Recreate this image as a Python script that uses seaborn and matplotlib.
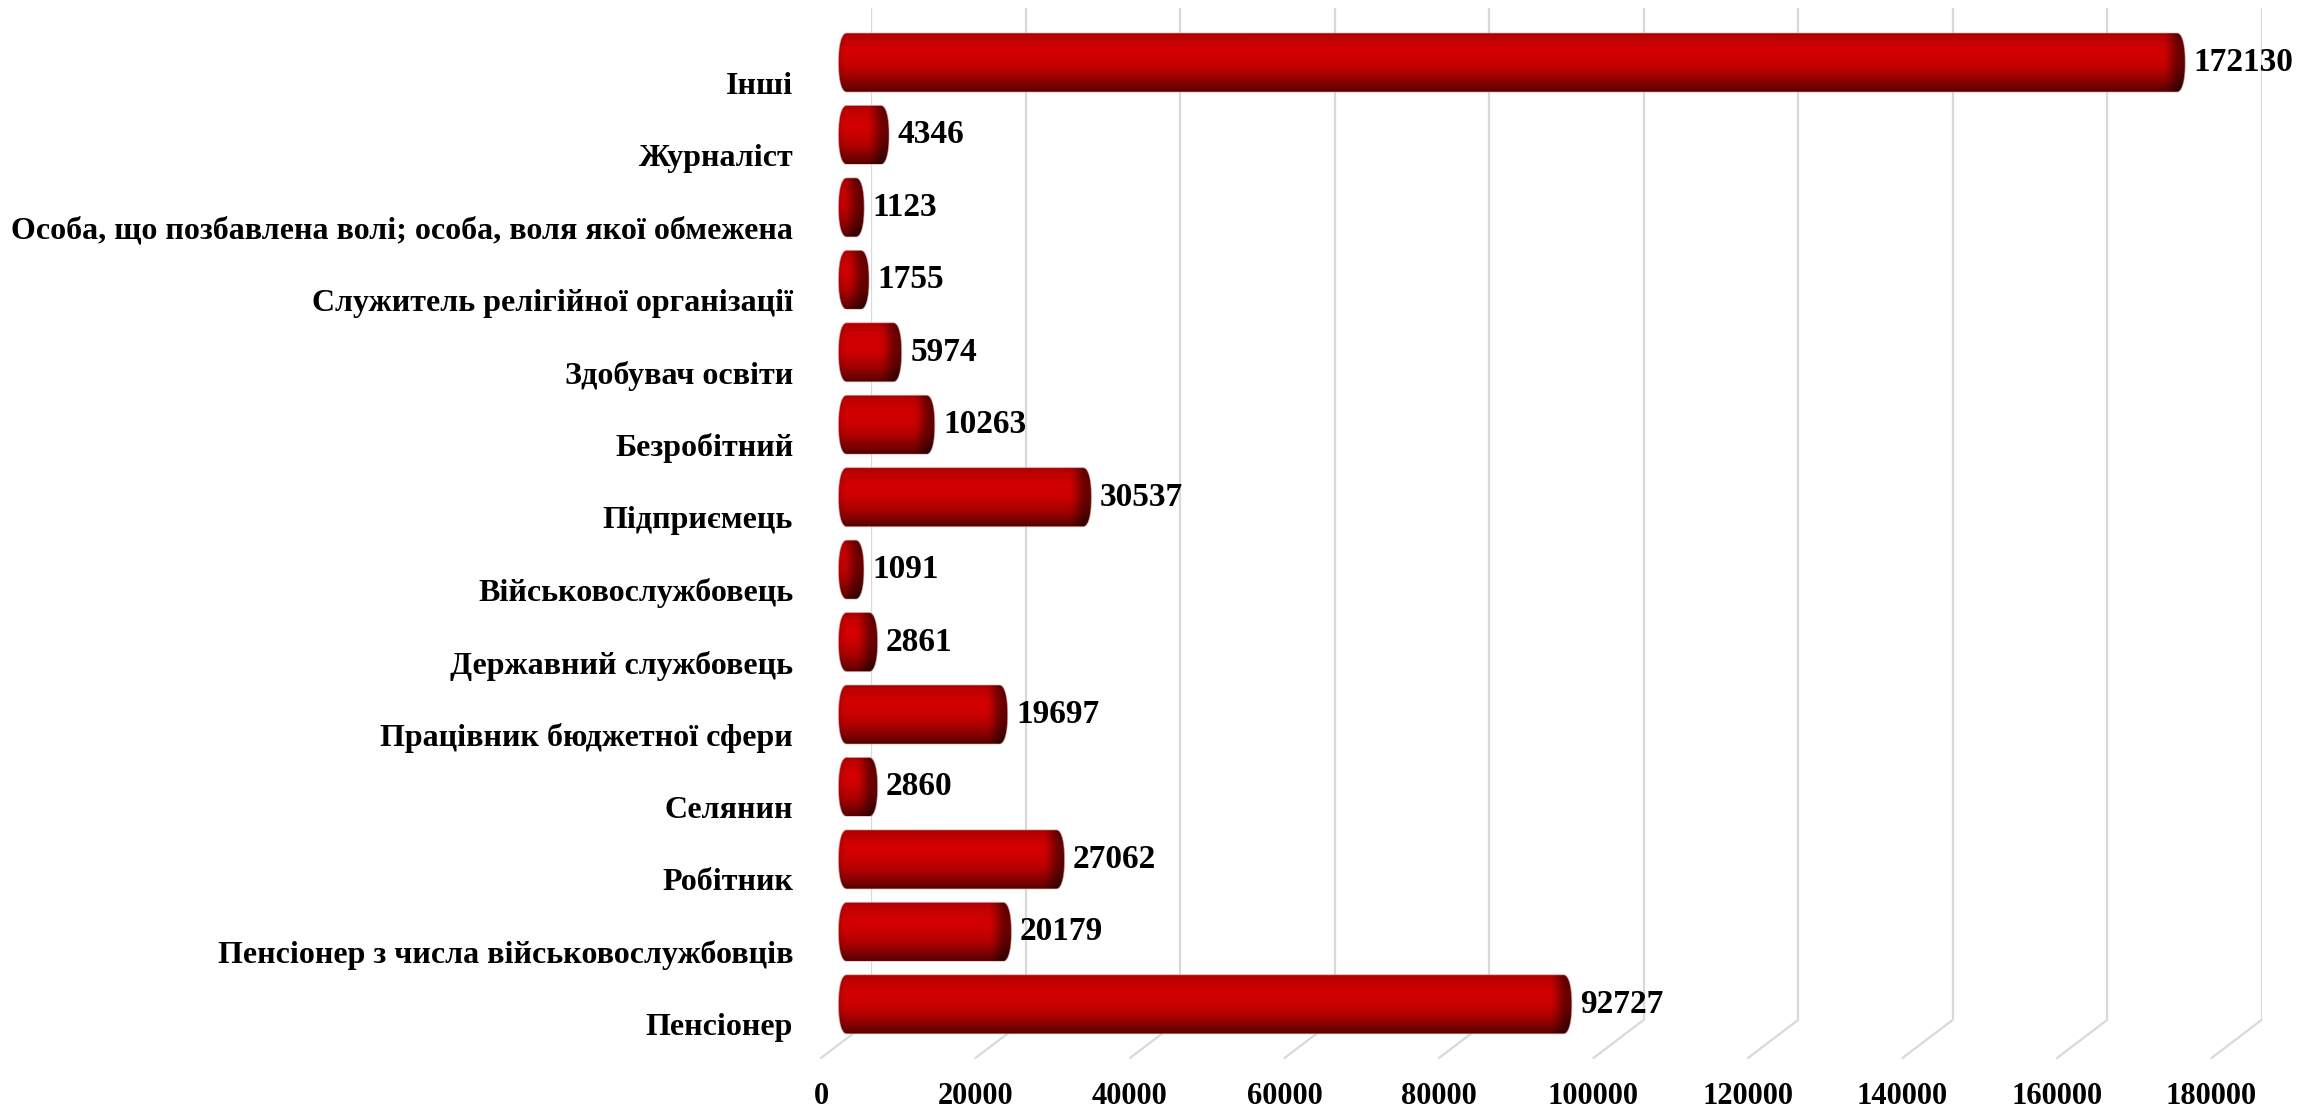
import numpy as np
import matplotlib
matplotlib.use("Agg")
import matplotlib.pyplot as plt
import seaborn as sns
from matplotlib.path import Path
from matplotlib.transforms import IdentityTransform
from matplotlib.patches import ConnectionPatch, PathPatch

# ---------------- data ----------------
categories = [
    "Інші",
    "Журналіст",
    "Особа, що позбавлена волі; особа, воля якої обмежена",
    "Служитель релігійної організації",
    "Здобувач освіти",
    "Безробітний",
    "Підприємець",
    "Військовослужбовець",
    "Державний службовець",
    "Працівник бюджетної сфери",
    "Селянин",
    "Робітник",
    "Пенсіонер з числа військовослужбовців",
    "Пенсіонер",
]
values = [172130, 4346, 1123, 1755, 5974, 10263, 30537, 1091, 2861, 19697, 2860, 27062, 20179, 92727]
x_ticks = [0, 20000, 40000, 60000, 80000, 100000, 120000, 140000, 160000, 180000]
x_max = 180000

# ---------------- style ----------------
sns.set_theme(style="white")
plt.rcParams["font.family"] = ["Liberation Serif", "DejaVu Serif"]
plt.rcParams["font.weight"] = "bold"

W, H = 2320, 1109
fig = plt.figure(figsize=(W / 100, H / 100), dpi=100)
fig.patch.set_facecolor("white")


def rect(left, top, right, bottom):
    return [left / W, 1 - bottom / H, (right - left) / W, (bottom - top) / H]


PLOT_W = 1390.5                # pixel width of the 0..x_max span
x_pad = 3000                   # room on the bar plane for the left end caps
pad_px = x_pad * PLOT_W / x_max

# three planes of the pseudo-3D chart: back wall, bar plane, front (labels)
ax_back = fig.add_axes(rect(871, 8.3, 871 + PLOT_W, 1020))
ax_mid = fig.add_axes(rect(847 - pad_px, 26.3, 847 + PLOT_W, 1038))
ax = fig.add_axes(rect(821, 46.3, 821 + PLOT_W, 1058))

YLIM = (13.465, -0.5)
grid_col = "#d9d9d9"

for a in (ax_back, ax):
    a.set_facecolor("none")
    a.set_xlim(0, x_max)
    a.set_ylim(*YLIM)
ax_mid.set_facecolor("none")

# back wall gridlines
for t in x_ticks:
    ax_back.axvline(t, color=grid_col, lw=1.6, zorder=0)
ax_back.axis("off")

# floor lines from back wall to front edge
for t in x_ticks:
    cp = ConnectionPatch(
        xyA=(t, 0), coordsA=ax_back.get_xaxis_transform(),
        xyB=(t, 0), coordsB=ax.get_xaxis_transform(),
        color=grid_col, lw=1.6, zorder=0,
    )
    cp.set_clip_on(False)
    ax_back.add_artist(cp)

# bars
sns.barplot(x=values, y=categories, orient="h", color="#cc0000",
            saturation=1, width=0.815, ax=ax_mid)
ax_mid.set_xlim(-x_pad, x_max)
ax_mid.set_ylim(*YLIM)
ax_mid.set_autoscale_on(False)
ax_mid.axis("off")

# cylinder shading profile (top -> bottom)
stops = [0.0, 0.08, 0.3, 0.5, 0.7, 0.85, 1.0]
cols = np.array([
    [0.64, 0.00, 0.00],
    [0.74, 0.00, 0.00],
    [0.83, 0.00, 0.00],
    [0.80, 0.00, 0.00],
    [0.68, 0.00, 0.00],
    [0.52, 0.00, 0.00],
    [0.34, 0.00, 0.00],
])


def smooth(z):
    z = np.clip(z, 0, 1)
    return z * z * (3 - 2 * z)


def sexp(a, n=2.3):
    return np.sign(a) * np.abs(a) ** (2.0 / n)


rx = 8.5
inv = ax_mid.transData.inverted()
for p, v in zip(list(ax_mid.patches), values):
    x0, w, y, h = p.get_x(), p.get_width(), p.get_y(), p.get_height()
    (X0, Ya) = ax_mid.transData.transform((x0, y))
    (X1, Yb) = ax_mid.transData.transform((x0 + w, y + h))
    Ylo, Yhi = min(Ya, Yb), max(Ya, Yb)
    yc, ry = (Ylo + Yhi) / 2, (Yhi - Ylo) / 2
    tr = np.linspace(np.pi / 2, -np.pi / 2, 60)
    tl = np.linspace(3 * np.pi / 2, np.pi / 2, 60)
    poly = np.vstack([
        np.column_stack([X1 + rx * sexp(np.cos(tr)), yc + ry * sexp(np.sin(tr))]),
        np.column_stack([X0 + rx * sexp(np.cos(tl)), yc + ry * sexp(np.sin(tl))]),
    ])
    path = Path(poly, closed=True)

    L, R = X0 - rx - 1, X1 + rx + 1
    nx = max(int(R - L) + 2, 4)
    ny = int(Yhi - Ylo) + 2
    fy = np.linspace(0, 1, ny)
    prof = np.column_stack([np.interp(fy, stops, cols[:, c]) for c in range(3)])
    xs = np.linspace(L, R, nx)
    fac = 1 - 0.5 * smooth((xs - (X1 - 14)) / 19.0)
    fac = fac * (1 - 0.12 * smooth((X0 - xs) / rx))
    img = prof[:, None, :] * fac[None, :, None]

    (dl, db) = inv.transform((L, Ylo))
    (dr, dt) = inv.transform((R, Yhi))
    im = ax_mid.imshow(img, extent=[dl, dr, db, dt], aspect="auto",
                       interpolation="bilinear", origin="upper", zorder=2)
    im.set_clip_path(path, IdentityTransform())
    outline = PathPatch(path, transform=IdentityTransform(), fill=False,
                        edgecolor="#d7a8a8", lw=0.7, alpha=0.6, zorder=3)
    ax_mid.add_patch(outline)
    outline.set_clip_on(False)
    p.set_facecolor("none")
    p.set_edgecolor("none")

    ax_mid.annotate(f"{v}", xy=(x0 + w, y + h / 2), xytext=(17, 0),
                    textcoords="offset pixels", ha="left", va="center",
                    fontsize=24, fontweight="bold", color="black",
                    annotation_clip=False, zorder=4)

ax_mid.set_xlim(-x_pad, x_max)
ax_mid.set_ylim(*YLIM)

# front plane: tick labels
ax.set_xticks(x_ticks)
ax.set_xticklabels([str(t) for t in x_ticks])
ax.set_yticks(range(len(categories)))
ax.set_yticklabels(categories)
ax.tick_params(axis="x", length=0, pad=17, labelsize=22, colors="black")
ax.tick_params(axis="y", length=0, pad=20, labelsize=23, colors="black")
for lab in ax.get_xticklabels() + ax.get_yticklabels():
    lab.set_fontweight("bold")
for s in ax.spines.values():
    s.set_visible(False)
ax.grid(False)

fig.savefig("out.png", dpi=100, facecolor="white")
